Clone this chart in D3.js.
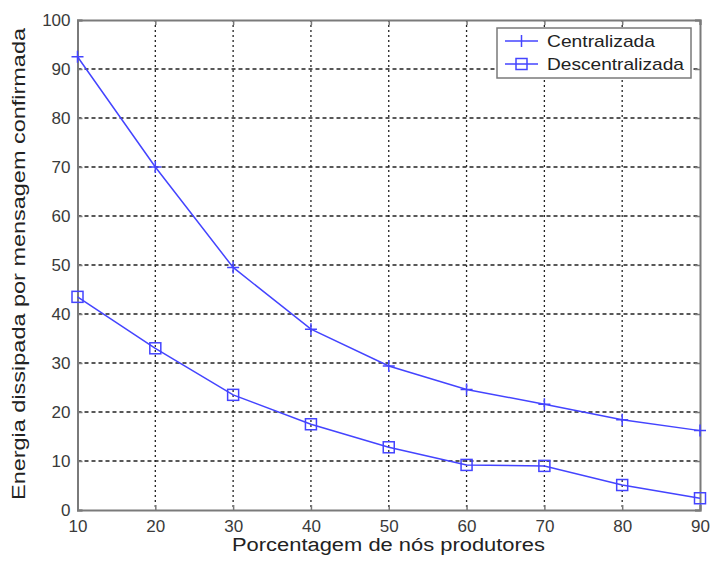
<!DOCTYPE html>
<html>
<head>
<meta charset="utf-8">
<script src="https://cdn.jsdelivr.net/npm/d3@7"></script>
<style>
  body { margin: 0; background: #fff; }
  text { font-family: "Liberation Sans", Arial, sans-serif; }
</style>
</head>
<body>
<div id="chart"></div>
<script>
// Data
const xValues = [10, 20, 30, 40, 50, 60, 70, 80, 90];
const centralizada = [92.5, 70, 49.5, 36.9, 29.4, 24.6, 21.6, 18.4, 16.2];
const descentralizada = [43.5, 33, 23.5, 17.5, 12.8, 9.2, 9.0, 5.1, 2.4];
const xTicks = [10, 20, 30, 40, 50, 60, 70, 80, 90];
const yTicks = [0, 10, 20, 30, 40, 50, 60, 70, 80, 90, 100];
const seriesNames = ["Centralizada", "Descentralizada"];

const w = 711, h = 562;
const pLeft = 77.5, pRight = 700, pTop = 20, pBottom = 510;

const svg = d3.select("#chart").append("svg")
  .attr("width", w).attr("height", h);

const x = d3.scaleLinear().domain([10, 90]).range([pLeft, pRight]);
const y = d3.scaleLinear().domain([0, 100]).range([pBottom, pTop]);

const blue = "#4444ff";
const axisGray = "#7a7a7a";

// grid
svg.append("g").selectAll("line").data(xTicks.slice(1, -1)).enter().append("line")
  .attr("x1", d => x(d)).attr("x2", d => x(d))
  .attr("y1", pTop).attr("y2", pBottom)
  .attr("stroke", "#222").attr("stroke-width", 1.3)
  .attr("stroke-dasharray", "2,3");

svg.append("g").selectAll("line").data(yTicks.slice(1, -1)).enter().append("line")
  .attr("x1", pLeft).attr("x2", pRight)
  .attr("y1", d => y(d)).attr("y2", d => y(d))
  .attr("stroke", "#222").attr("stroke-width", 1.3)
  .attr("stroke-dasharray", "4,3");

// axes
const xAxis = d3.axisBottom(x).tickValues(xTicks).tickSize(-5).tickPadding(10);
const yAxis = d3.axisLeft(y).tickValues(yTicks).tickSize(-5).tickPadding(7);
const xTop = d3.axisTop(x).tickValues(xTicks).tickSize(-5).tickFormat("");
const yRight = d3.axisRight(y).tickValues(yTicks).tickSize(-5).tickFormat("");

const styleAxis = g => {
  g.select(".domain").attr("stroke", axisGray).attr("stroke-width", 2);
  g.selectAll(".tick line").attr("stroke", axisGray).attr("stroke-width", 1.5);
  g.selectAll(".tick text").attr("fill", "#3a3a3a").style("font-size", "17px")
    .style("font-family", "'Liberation Sans', Arial, sans-serif");
};

svg.append("g").attr("transform", "translate(0," + pBottom + ")").call(xAxis).call(styleAxis);
svg.append("g").attr("transform", "translate(" + pLeft + ",0)").call(yAxis).call(styleAxis);
svg.append("g").attr("transform", "translate(0," + pTop + ")").call(xTop).call(styleAxis);
svg.append("g").attr("transform", "translate(" + pRight + ",0)").call(yRight).call(styleAxis);

// lines
const line = d3.line().x((d, i) => x(xValues[i])).y(d => y(d));

svg.append("path").datum(centralizada)
  .attr("d", line).attr("fill", "none").attr("stroke", blue).attr("stroke-width", 1.5);
svg.append("path").datum(descentralizada)
  .attr("d", line).attr("fill", "none").attr("stroke", blue).attr("stroke-width", 1.5);

// plus markers
svg.append("g").selectAll("path").data(centralizada).enter().append("path")
  .attr("d", (d, i) => {
    const cx = x(xValues[i]), cy = y(d), s = 6;
    return "M" + (cx - s) + "," + cy + "H" + (cx + s) + "M" + cx + "," + (cy - s) + "V" + (cy + s);
  })
  .attr("stroke", blue).attr("stroke-width", 1.5).attr("fill", "none");

// square markers
svg.append("g").selectAll("rect").data(descentralizada).enter().append("rect")
  .attr("x", (d, i) => x(xValues[i]) - 5.5)
  .attr("y", d => y(d) - 5.5)
  .attr("width", 11).attr("height", 11)
  .attr("fill", "none").attr("stroke", blue).attr("stroke-width", 1.5);

// axis labels (the source is a bit wide, so stretch text to fit)
svg.append("text")
  .attr("x", 232).attr("y", 551)
  .attr("textLength", 313).attr("lengthAdjust", "spacingAndGlyphs")
  .style("font-size", "18px").attr("fill", "#222")
  .text("Porcentagem de nós produtores");

svg.append("text")
  .attr("transform", "translate(25,500) rotate(-90)")
  .attr("textLength", 472).attr("lengthAdjust", "spacingAndGlyphs")
  .style("font-size", "18px").attr("fill", "#222")
  .text("Energia dissipada por mensagem confirmada");

// legend
const legend = svg.append("g");
legend.append("rect")
  .attr("x", 497).attr("y", 28).attr("width", 194).attr("height", 50)
  .attr("fill", "#fff").attr("stroke", axisGray).attr("stroke-width", 1.5);

const legendWidths = [108, 137];
seriesNames.forEach((name, i) => {
  const ly = 41 + i * 23;
  legend.append("line")
    .attr("x1", 505).attr("x2", 538).attr("y1", ly).attr("y2", ly)
    .attr("stroke", blue).attr("stroke-width", 1.5);
  if (i === 0) {
    legend.append("line")
      .attr("x1", 521.5).attr("x2", 521.5).attr("y1", ly - 6).attr("y2", ly + 6)
      .attr("stroke", blue).attr("stroke-width", 1.5);
  } else {
    legend.append("rect")
      .attr("x", 516).attr("y", ly - 5.5).attr("width", 11).attr("height", 11)
      .attr("fill", "none").attr("stroke", blue).attr("stroke-width", 1.5);
  }
  legend.append("text")
    .attr("x", 547).attr("y", ly + 6)
    .attr("textLength", legendWidths[i]).attr("lengthAdjust", "spacingAndGlyphs")
    .style("font-size", "17px").attr("fill", "#222")
    .text(name);
});
</script>
</body>
</html>
